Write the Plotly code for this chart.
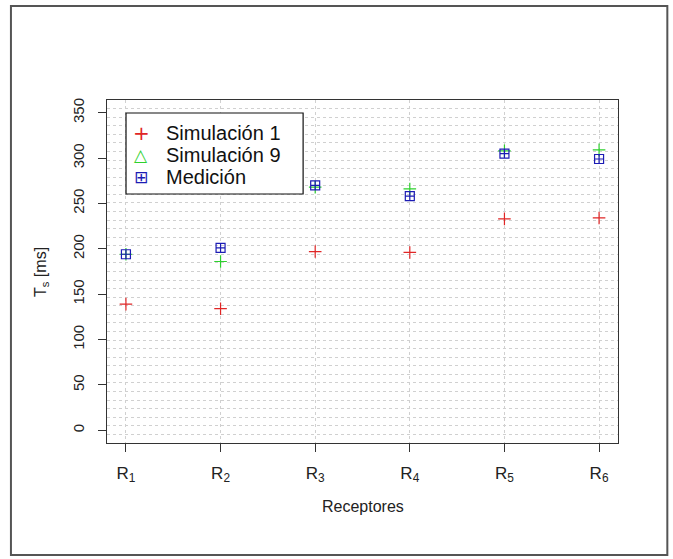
import plotly.graph_objects as go

receptores = [1, 2, 3, 4, 5, 6]
tick_labels = ["R<sub>1</sub>", "R<sub>2</sub>", "R<sub>3</sub>", "R<sub>4</sub>", "R<sub>5</sub>", "R<sub>6</sub>"]
sim1 = [139, 134, 197, 196, 233, 234]
sim9 = [194, 186, 268, 266, 308, 309]
medicion = [194, 201, 270, 258, 305, 299]
y_ticks = [0, 50, 100, 150, 200, 250, 300, 350]
legend_names = ["Simulación 1", "Simulación 9", "Medición"]
legend_glyphs = ["+", "△", "⊞"]

RED = "#E02626"
GREEN = "#2ED12E"
BLUE = "#1C1CB4"
legend_colors = [RED, GREEN, BLUE]
FONT = "Liberation Sans Narrow, Liberation Sans, Arial, sans-serif"
FONT_REG = "Liberation Sans, Arial, sans-serif"

# plot area in pixels (for converting layout positions to paper coords)
PL, PR, PT, PB = 107, 617.7, 100, 443
def px(x):
    return (x - PL) / (PR - PL)
def py(y):
    return (PB - y) / (PB - PT)

fig = go.Figure()
fig.add_trace(go.Scatter(x=receptores, y=sim1, mode="markers", name="Simulación 1",
                         marker=dict(symbol="cross-thin-open", size=9, color=RED,
                                     line=dict(color=RED, width=1.2))))
fig.add_trace(go.Scatter(x=receptores, y=sim9, mode="markers", name="Simulación 9",
                         marker=dict(symbol="cross-thin-open", size=9, color=GREEN,
                                     line=dict(color=GREEN, width=1.2))))
fig.add_trace(go.Scatter(x=receptores, y=medicion, mode="markers", name="Medición",
                         marker=dict(symbol="square-cross-open", size=9, color=BLUE,
                                     line=dict(color=BLUE, width=1.2))))

annotations = [
    dict(text="T<sub>s</sub> [ms]", x=px(30), y=0.5, xref="paper", yref="paper",
         textangle=-90, showarrow=False, font=dict(family=FONT, size=16, color="#222")),
    dict(text="Receptores", x=0.5, y=py(517), xref="paper", yref="paper",
         showarrow=False, font=dict(family=FONT, size=16, color="#222")),
]
glyph_sizes = [20, 17, 17]
for i, (name, glyph, col) in enumerate(zip(legend_names, legend_glyphs, legend_colors)):
    yc = 133 + i * 22
    annotations.append(dict(text=name, x=px(164), y=py(yc), xref="paper", yref="paper",
                            xanchor="left", yanchor="middle", showarrow=False,
                            font=dict(family=FONT_REG, size=20, color="#111")))
    annotations.append(dict(text=glyph, x=px(141), y=py(yc), xref="paper", yref="paper",
                            xanchor="center", yanchor="middle", showarrow=False,
                            font=dict(family="DejaVu Sans", size=glyph_sizes[i], color=col)))

ymin, ymax = -14, 364
fig.update_layout(
    width=673, height=559,
    margin=dict(l=107, r=55, t=100, b=116),
    paper_bgcolor="white", plot_bgcolor="white",
    font=dict(family=FONT, color="#222"),
    showlegend=False,
    xaxis=dict(range=[0.8, 6.2], tickmode="array", tickvals=receptores, ticktext=tick_labels,
               showgrid=True, gridcolor="#D0D0D0", griddash="dot", gridwidth=1,
               showline=True, mirror=True, linecolor="#333", linewidth=1.2,
               ticks="outside", ticklen=8, tickcolor="#333", tickwidth=1.2,
               tickfont=dict(family=FONT, size=17, color="#222"), zeroline=False,
               ticklabelstandoff=6),
    yaxis=dict(range=[ymin, ymax], tickmode="array", tickvals=y_ticks,
               showgrid=False, zeroline=False,
               minor=dict(tick0=ymin, dtick=(ymax - ymin) / 40, showgrid=True,
                          gridcolor="#D0D0D0", griddash="dot", gridwidth=1, ticklen=0),
               showline=True, mirror=True, linecolor="#333", linewidth=1.2,
               ticks="outside", ticklen=8, tickcolor="#333", tickwidth=1.2,
               tickangle=-90, tickfont=dict(family=FONT, size=15, color="#222"),
               ticklabelstandoff=8),
    annotations=annotations,
    shapes=[
        dict(type="rect", xref="paper", yref="paper", x0=px(11), x1=px(667),
             y0=py(555), y1=py(6), line=dict(color="#555", width=2)),
        dict(type="rect", xref="paper", yref="paper", x0=px(126), x1=px(303),
             y0=py(194), y1=py(113), line=dict(color="#111", width=1.2),
             fillcolor="white", layer="above"),
    ],
)

fig.write_html("out.html")
